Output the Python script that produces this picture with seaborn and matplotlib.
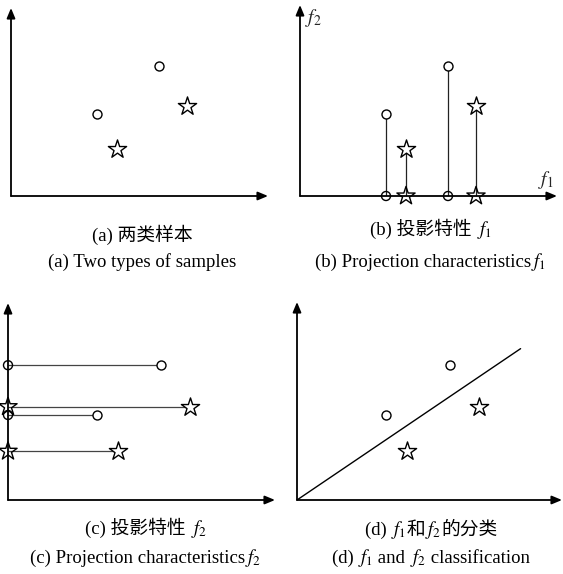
import matplotlib
matplotlib.use('Agg')
import matplotlib.pyplot as plt
import seaborn as sns
from matplotlib.offsetbox import TextArea, HPacker, AnchoredOffsetbox

sns.set_style('white')
plt.rcParams['font.family'] = ['Liberation Serif', 'Noto Sans CJK SC']
plt.rcParams['mathtext.fontset'] = 'stix'

# ---- data (feature values of the two classes) ----
circle_f1 = [86, 148]
circle_f2 = [82, 130]
star_f1 = [106, 176]
star_f2 = [47, 90]
boundary_f1 = [0, 216]
boundary_f2 = [0, 146]

caption_cn = [["(a) 两类样本"],
              ["(b) 投影特性 ", "$f_1$"],
              ["(c) 投影特性 ", "$f_2$"],
              ["(d) ", "$f_1$", "和", "$f_2$", "的分类"]]
caption_en = [["(a) Two types of samples"],
              ["(b) Projection characteristics", "$f_1$"],
              ["(c) Projection characteristics", "$f_2$"],
              ["(d) ", "$f_1$", " and ", "$f_2$", " classification"]]

W, H = 563, 574
fig = plt.figure(figsize=(W / 100, H / 100), dpi=100)

# panel geometry in pixels: origin x, origin y, right tip x, top tip y, xmax, ymax
panels = [(11, 196, 268, 8, 257, 188),
          (300, 196, 557, 5, 257, 191),
          (8, 500, 275, 303, 258, 190),
          (297, 500, 562, 302, 256, 191)]
cap_pos = [(142, 235, 262), (431, 230, 262), (146, 529, 558), (431, 530, 558)]

FS = 13.5
fam = ['Liberation Serif', 'Noto Sans CJK SC']
axes = []
for (x0, y0, xr, yt, xm, ym) in panels:
    ax = fig.add_axes([x0 / W, (H - y0) / H, (xr - x0) / W, (y0 - yt) / H])
    ax.set_xlim(0, xm)
    ax.set_ylim(0, ym)
    for s in ax.spines.values():
        s.set_visible(False)
    ax.set_xticks([])
    ax.set_yticks([])
    ax.patch.set_alpha(0)
    ap = dict(arrowstyle='-|>,head_length=0.6,head_width=0.25', lw=1.3,
              color='black', mutation_scale=10, shrinkA=0, shrinkB=0)
    ax.annotate('', xy=(1, 0), xytext=(0, 0), xycoords='axes fraction', arrowprops=ap)
    ax.annotate('', xy=(0, 1), xytext=(0, 0), xycoords='axes fraction', arrowprops=ap)
    axes.append(ax)


def circles(ax, x, y, face='white'):
    sns.scatterplot(x=x, y=y, marker='o', s=42, color='white', edgecolor='black',
                    linewidth=1.0, ax=ax, zorder=4, clip_on=False, legend=False)
    ax.collections[-1].set_facecolor(face)


def stars(ax, x, y, face='white'):
    sns.scatterplot(x=x, y=y, marker='*', s=190, color='white', edgecolor='black',
                    linewidth=1.0, ax=ax, zorder=4, clip_on=False, legend=False)
    ax.collections[-1].set_facecolor(face)


# (a) two classes
ax = axes[0]
circles(ax, circle_f1, circle_f2)
stars(ax, star_f1, star_f2)

# (b) projection onto f1
ax = axes[1]
ax.vlines(circle_f1, 0, circle_f2, color='#222222', lw=0.9, zorder=2)
ax.vlines(star_f1, 0, star_f2, color='#222222', lw=0.9, zorder=2)
circles(ax, circle_f1, circle_f2)
stars(ax, star_f1, star_f2)
circles(ax, circle_f1, [0] * len(circle_f1), face='none')
stars(ax, star_f1, [0] * len(star_f1), face='none')
ax.text(0.02, 0.93, '$f_2$', transform=ax.transAxes, fontsize=14, va='center', ha='left')
ax.text(0.925, 0.085, '$f_1$', transform=ax.transAxes, fontsize=14, va='center', ha='left')

# (c) projection onto f2
ax = axes[2]
ax.hlines(circle_f2, 0, circle_f1, color='#444444', lw=0.9, zorder=2)
ax.hlines(star_f2, 0, star_f1, color='#444444', lw=0.9, zorder=2)
circles(ax, circle_f1, circle_f2)
stars(ax, star_f1, star_f2)
circles(ax, [0] * len(circle_f1), circle_f2, face='none')
stars(ax, [0] * len(star_f1), star_f2, face='none')

# (d) classification with f1 and f2
ax = axes[3]
sns.lineplot(x=boundary_f1, y=boundary_f2, color='black', lw=1.0, ax=ax, zorder=2)
circles(ax, circle_f1, circle_f2)
stars(ax, star_f1, star_f2)


def caption(parts, x, y):
    kids = [TextArea(p, textprops=dict(fontsize=FS, family=fam, color='black')) for p in parts]
    pk = HPacker(children=kids, align='baseline', pad=0, sep=0)
    box = AnchoredOffsetbox(loc='center', child=pk, bbox_to_anchor=(x / W, 1 - y / H),
                            bbox_transform=fig.transFigure, frameon=False, pad=0, borderpad=0)
    fig.add_artist(box)


for i, (cx, ycn, yen) in enumerate(cap_pos):
    caption(caption_cn[i], cx, ycn)
    caption(caption_en[i], cx, yen)

fig.savefig('out.png', dpi=100, facecolor='white')
